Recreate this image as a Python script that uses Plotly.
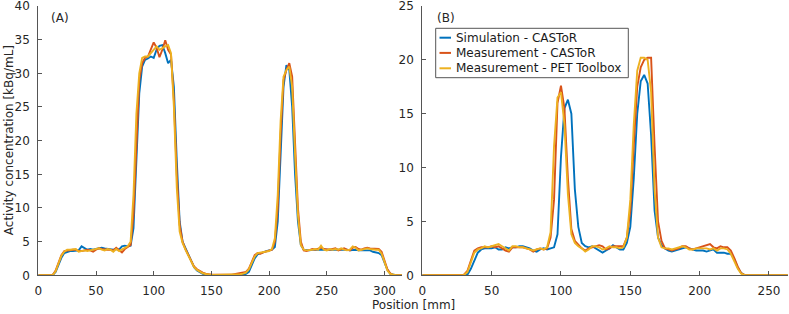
import plotly.graph_objects as go

W, H = 789, 314
STEP = 2.5  # sampling step of the profiles [mm]

# ---------- Panel (A) profiles [kBq/mL] ----------
simA = [0, 0, 0, 0, 0, 0.05, 0.5, 1.5, 2.6, 3.3,
        3.5, 3.6, 3.6, 3.6, 3.7, 4.3, 4.0, 3.8, 3.9, 3.8,
        3.9, 4.0, 4.1, 4.0, 3.9, 3.8, 3.8, 3.9, 3.8, 4.3,
        4.4, 4.3, 4.4, 7, 17, 27, 31, 32, 32.2, 32.5,
        32.3, 33.5, 34.1, 34.2, 33, 31.5, 32, 28, 17, 8,
        5, 4, 3, 2, 1.2, 0.7, 0.4, 0.2, 0.1, 0.05,
        0, 0, 0, 0, 0, 0, 0, 0, 0, 0,
        0.05, 0.1, 0.2, 0.5, 1.5, 2.5, 3.1, 3.3, 3.5, 3.6,
        3.7, 3.8, 4.2, 8, 18, 28, 31.2, 30.5, 25, 15,
        8, 4.5, 3.8, 3.7, 3.7, 3.8, 3.8, 3.9, 3.8, 3.8,
        3.9, 3.9, 3.8, 3.9, 3.8, 3.9, 3.8, 3.8, 3.7, 3.8,
        3.8, 3.7, 3.7, 3.8, 3.8, 3.7, 3.5, 3.4, 3.3, 3.0,
        2.0, 0.8, 0.2, 0.05, 0, 0, 0, 0, 0, 0]

measA = [0, 0, 0, 0, 0, 0.05, 0.7, 2, 3, 3.6,
         3.7, 3.8, 3.8, 3.8, 3.6, 3.6, 3.7, 3.8, 3.7, 3.5,
         3.8, 4.0, 3.9, 3.8, 3.8, 3.8, 3.7, 4.1, 3.8, 3.4,
         3.9, 4.2, 4.5, 9, 20, 29, 31.5, 32.3, 32.5, 33.5,
         34.6, 33.8, 32.4, 33.5, 34.9, 33.5, 32.8, 26, 15, 7.5,
         5, 3.9, 3, 2, 1.3, 0.9, 0.6, 0.4, 0.25, 0.15,
         0.1, 0.08, 0.06, 0.05, 0.05, 0.06, 0.08, 0.1, 0.2, 0.3,
         0.3, 0.4, 0.5, 1, 2, 3, 3.3, 3.2, 3.4, 3.5,
         3.6, 3.8, 5, 10, 21, 29, 30.5, 31.5, 29.5, 20,
         10, 5, 3.7, 3.6, 3.8, 3.9, 3.8, 4.0, 4.1, 3.9,
         3.8, 3.8, 3.9, 4.0, 3.7, 3.9, 4.0, 3.8, 3.7, 4.1,
         4.2, 3.9, 3.8, 4.0, 4.1, 4.0, 4.0, 3.9, 3.9, 3.5,
         2.2, 0.9, 0.3, 0.05, 0, 0, 0, 0, 0, 0]

petA = [0, 0, 0, 0, 0, 0.05, 0.6, 1.8, 2.9, 3.5,
        3.8, 3.8, 3.9, 3.9, 3.5, 3.6, 3.7, 3.6, 3.7, 3.8,
        3.9, 4.0, 3.8, 3.7, 3.9, 3.8, 3.5, 3.9, 3.6, 3.8,
        4.1, 4.3, 5, 12, 24, 30, 32.3, 32.5, 32.5, 33,
        33.5, 34, 33.5, 33.8, 34, 34.2, 33, 25, 13, 6.5,
        4.8, 3.8, 3, 2, 1.2, 0.8, 0.5, 0.3, 0.2, 0.1,
        0.05, 0.05, 0.05, 0.05, 0.05, 0.05, 0.05, 0.05, 0.05, 0.1,
        0.15, 0.25, 0.4, 0.9, 1.8, 2.8, 3.3, 3.4, 3.5, 3.6,
        3.6, 3.9, 5.5, 12, 23, 29.5, 30.5, 31, 28, 18,
        9, 4.5, 3.8, 3.7, 3.7, 3.8, 3.9, 3.8, 4.4, 3.8,
        3.7, 3.9, 3.8, 3.9, 3.8, 4.0, 3.8, 3.7, 3.8, 4.3,
        4.1, 3.7, 3.8, 3.9, 4.0, 3.9, 3.8, 3.8, 3.8, 3.2,
        2.0, 0.7, 0.2, 0.05, 0, 0, 0, 0, 0, 0]

# ---------- Panel (B) profiles [kBq/mL] ----------
simB = [0, 0, 0, 0, 0, 0, 0, 0, 0, 0,
        0, 0, 0, 0.05, 0.6, 1.4, 2.1, 2.4, 2.5, 2.5,
        2.5, 2.6, 2.4, 2.4, 2.6, 2.5, 2.6, 2.6, 2.7, 2.7,
        2.6, 2.5, 2.3, 2.2, 2.4, 2.5, 2.4, 2.5, 2.6, 3.8,
        11, 15.5, 16.3, 15, 8, 4.5, 3.0, 2.7, 2.6, 2.7,
        2.5, 2.3, 2.1, 2.3, 2.5, 2.8, 2.6, 2.4, 2.4, 3.0,
        4.5, 9, 15, 18, 18.6, 17.8, 13, 6, 3.5, 2.8,
        2.5, 2.3, 2.2, 2.3, 2.4, 2.5, 2.6, 2.5, 2.4, 2.3,
        2.3, 2.3, 2.2, 2.3, 2.4, 2.1, 2.1, 2.1, 2.0, 2.0,
        1.5, 0.7, 0.2, 0.03, 0, 0, 0, 0, 0, 0,
        0, 0, 0, 0, 0, 0, 0, 0, 0, 0]

measB = [0, 0, 0, 0, 0, 0, 0, 0, 0, 0,
         0, 0, 0.05, 0.4, 1.4, 2.3, 2.5, 2.6, 2.6, 2.6,
         2.7, 2.6, 2.7, 2.5, 2.3, 2.2, 2.6, 2.6, 2.6, 2.6,
         2.5, 2.4, 2.2, 2.4, 2.5, 2.4, 2.5, 3.5, 7, 16,
         17.6, 15.5, 9, 4.3, 3.2, 2.8, 2.5, 2.3, 2.5, 2.6,
         2.7, 2.8, 2.7, 2.4, 2.5, 2.7, 2.7, 2.7, 2.7, 3.5,
         6, 12, 17.5, 19.3, 20.0, 20.2, 20.2, 12, 5, 3.2,
         2.5, 2.4, 2.3, 2.4, 2.5, 2.7, 2.7, 2.5, 2.4, 2.5,
         2.6, 2.7, 2.8, 2.9, 2.6, 2.5, 2.7, 2.6, 2.6, 2.3,
         1.6, 0.8, 0.2, 0.03, 0, 0, 0, 0, 0, 0,
         0, 0, 0, 0, 0, 0, 0, 0, 0, 0]

petB = [0, 0, 0, 0, 0, 0, 0, 0, 0, 0,
        0, 0, 0.03, 0.3, 1.2, 2.1, 2.4, 2.5, 2.7, 2.6,
        2.7, 2.8, 2.9, 2.7, 2.5, 2.3, 2.7, 2.7, 2.6, 2.6,
        2.5, 2.4, 2.3, 2.4, 2.5, 2.4, 2.6, 4, 12, 16.5,
        17.0, 14, 7.5, 3.8, 3.0, 2.7, 2.5, 2.2, 2.4, 2.7,
        2.7, 2.6, 2.4, 2.5, 2.7, 2.6, 2.6, 2.5, 2.6, 3.5,
        7, 14, 19, 20.2, 20.2, 20.0, 17, 8, 3.5, 2.6,
        2.5, 2.5, 2.4, 2.5, 2.6, 2.7, 2.6, 2.4, 2.4, 2.5,
        2.5, 2.5, 2.5, 2.4, 2.5, 2.3, 2.5, 2.5, 2.4, 2.0,
        1.3, 0.6, 0.15, 0.02, 0, 0, 0, 0, 0, 0,
        0, 0, 0, 0, 0, 0, 0, 0, 0, 0]

series_names = ["Simulation - CASToR", "Measurement - CASToR", "Measurement - PET Toolbox"]
colors = ["#0072BD", "#D95319", "#EDB120"]

xticksA = [0, 50, 100, 150, 200, 250, 300]
yticksA = [0, 5, 10, 15, 20, 25, 30, 35, 40]
xticksB = [0, 50, 100, 150, 200, 250]
yticksB = [0, 5, 10, 15, 20, 25]


def px(x):
    return x / W


def py(y):
    return 1 - y / H


fig = go.Figure()
for vals, name, col in zip([simA, measA, petA], series_names, colors):
    fig.add_trace(go.Scatter(x=[STEP * i for i in range(len(vals))], y=vals, mode="lines",
                             name=name, line=dict(color=col, width=1.9),
                             xaxis="x", yaxis="y", showlegend=False, hoverinfo="skip"))
for vals, name, col in zip([simB, measB, petB], series_names, colors):
    fig.add_trace(go.Scatter(x=[STEP * i for i in range(len(vals))], y=vals, mode="lines",
                             name=name, line=dict(color=col, width=1.9),
                             xaxis="x2", yaxis="y2", showlegend=False, hoverinfo="skip"))

axcol = "#262626"
tickfont = dict(family="DejaVu Sans", size=12, color=axcol)
common = dict(showgrid=False, zeroline=False, showline=True, linecolor="#555555",
              linewidth=1, ticks="inside", ticklen=4, tickcolor="#555555",
              tickfont=tickfont, fixedrange=True, ticklabeloverflow="allow",
              automargin=False)

ybot, ytop = py(275.3), py(6)
fig.update_layout(
    width=W, height=H, margin=dict(l=0, r=0, t=0, b=0, pad=0, autoexpand=False),
    paper_bgcolor="white", plot_bgcolor="white",
    font=dict(family="DejaVu Sans", size=12, color=axcol),
    xaxis=dict(domain=[px(38.3), px(401.8)], range=[0, 315], tickvals=xticksA,
               anchor="y", ticklabelstandoff=4, **common),
    yaxis=dict(domain=[ybot, ytop], range=[0, 40], tickvals=yticksA,
               anchor="x", ticklabelstandoff=5, **common),
    xaxis2=dict(domain=[px(422.3), px(787.7)], range=[0, 263.5], tickvals=xticksB,
                anchor="y2", ticklabelstandoff=4, **common),
    yaxis2=dict(domain=[ybot, ytop], range=[0, 25], tickvals=yticksB,
                anchor="x2", ticklabelstandoff=5, **common),
    hovermode=False,
)

ann = []
ann.append(dict(text="Activity concentration [kBq/mL]", x=px(8.5), y=py(140.7), xref="paper",
                yref="paper", textangle=-90, showarrow=False, xanchor="center", yanchor="middle",
                font=dict(size=12, color=axcol)))
ann.append(dict(text="Position [mm]", x=px(413.5), y=py(304.5), xref="paper", yref="paper",
                showarrow=False, xanchor="center", yanchor="middle",
                font=dict(size=12, color=axcol)))
ann.append(dict(text="(A)", x=px(49), y=py(17.5), xref="paper", yref="paper", showarrow=False,
                xanchor="left", yanchor="middle", font=dict(size=12, color=axcol)))
ann.append(dict(text="(B)", x=px(435), y=py(17.5), xref="paper", yref="paper", showarrow=False,
                xanchor="left", yanchor="middle", font=dict(size=12, color=axcol)))

shapes = [dict(type="rect", xref="paper", yref="paper", x0=px(435.7), x1=px(628.3),
               y0=py(77.7), y1=py(28.3), line=dict(color="#555555", width=1),
               fillcolor="white", layer="above")]
leg_y = [37.7, 52.9, 68.3]
for name, col, yy in zip(series_names, colors, leg_y):
    shapes.append(dict(type="line", xref="paper", yref="paper", x0=px(439.5), x1=px(451),
                       y0=py(yy), y1=py(yy), line=dict(color=col, width=2), layer="above"))
    ann.append(dict(text=name, x=px(453.5), y=py(yy), xref="paper", yref="paper",
                    showarrow=False, xanchor="left", yanchor="middle",
                    font=dict(size=12, color="#1a1a1a")))

fig.update_layout(annotations=ann, shapes=shapes)
fig.write_html("out.html", config={"displayModeBar": False, "staticPlot": True},
               post_script="document.body.style.margin='0';document.body.style.padding='0';")
